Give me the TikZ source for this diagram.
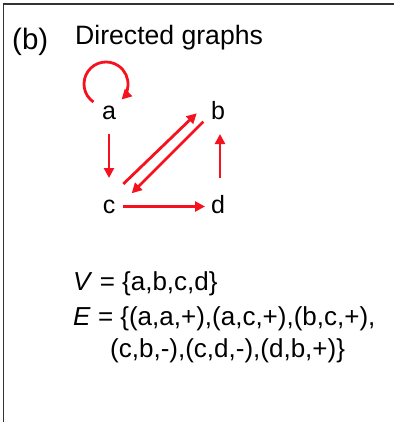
\documentclass[tikz,border=0pt]{standalone}
\usepackage{fontspec}
\setmainfont{Liberation Sans}
\usepackage{tikz}
\usetikzlibrary{arrows.meta}
\definecolor{edgered}{HTML}{F5111E}
\definecolor{framegray}{HTML}{333333}
\definecolor{ink}{HTML}{000000}

\begin{document}
\begin{tikzpicture}[x=1pt,y=1pt,
  vtx/.style={font=\fontsize{25}{25}\selectfont,color=ink,inner sep=0pt,text height=13pt,text depth=0pt},
  txt/.style={font=\fontsize{26}{26}\selectfont,color=ink,anchor=base west,inner sep=0pt},
  arr/.style={edgered,line width=2.8pt,-{Triangle[length=10pt,width=10pt]}}]
\useasboundingbox (0,0) rectangle (394,-422);
\draw[framegray,line width=1.5pt] (3.5,-422) -- (3.5,-4) -- (394,-4);
\node[txt,font=\fontsize{29.5}{29.5}\selectfont] (tag) at (12,-50){(b)};
\node[txt,font=\fontsize{26.6}{26.6}\selectfont] (title) at (75,-45){Directed graphs};
% vertices
\foreach \n/\x/\y in {a/109/113.5,b/218/113.5,c/109/206.5,d/218/206.5}{
  \node[vtx] (\n) at (\x,-\y){\n};}
% edges
\draw[arr] ([shift={(-15.6pt,11.5pt)}]a.center) arc[start angle=235,end angle=-45,radius=22pt];
\draw[arr,shorten <=20.5pt,shorten >=28.5pt] (a.center) -- (c.center);
\draw[arr] ([shift={(14.3pt,22.5pt)}]c.center) -- ([shift={(-21.3pt,0.2pt)}]b.center);
\draw[arr] ([shift={(-14.7pt,-8.2pt)}]b.center) -- ([shift={(22.7pt,13.2pt)}]c.center);
\draw[arr,shorten <=14.3pt,shorten >=13pt] (c.center) -- (d.center);
\draw[arr,shorten <=28.5pt,shorten >=20.5pt] ([xshift=2pt]d.center) -- ([xshift=2pt]b.center);
% sets
\node[txt] (vset) at (73,-290){\textit{V} = \{a,b,c,d\}};
\node[txt] (eset) at (73,-325){\textit{E} = \{(a,a,+),(a,c,+),(b,c,+),};
\node[txt] (eset2) at (110,-357){(c,b,-),(c,d,-),(d,b,+)\}};
\end{tikzpicture}
\end{document}
